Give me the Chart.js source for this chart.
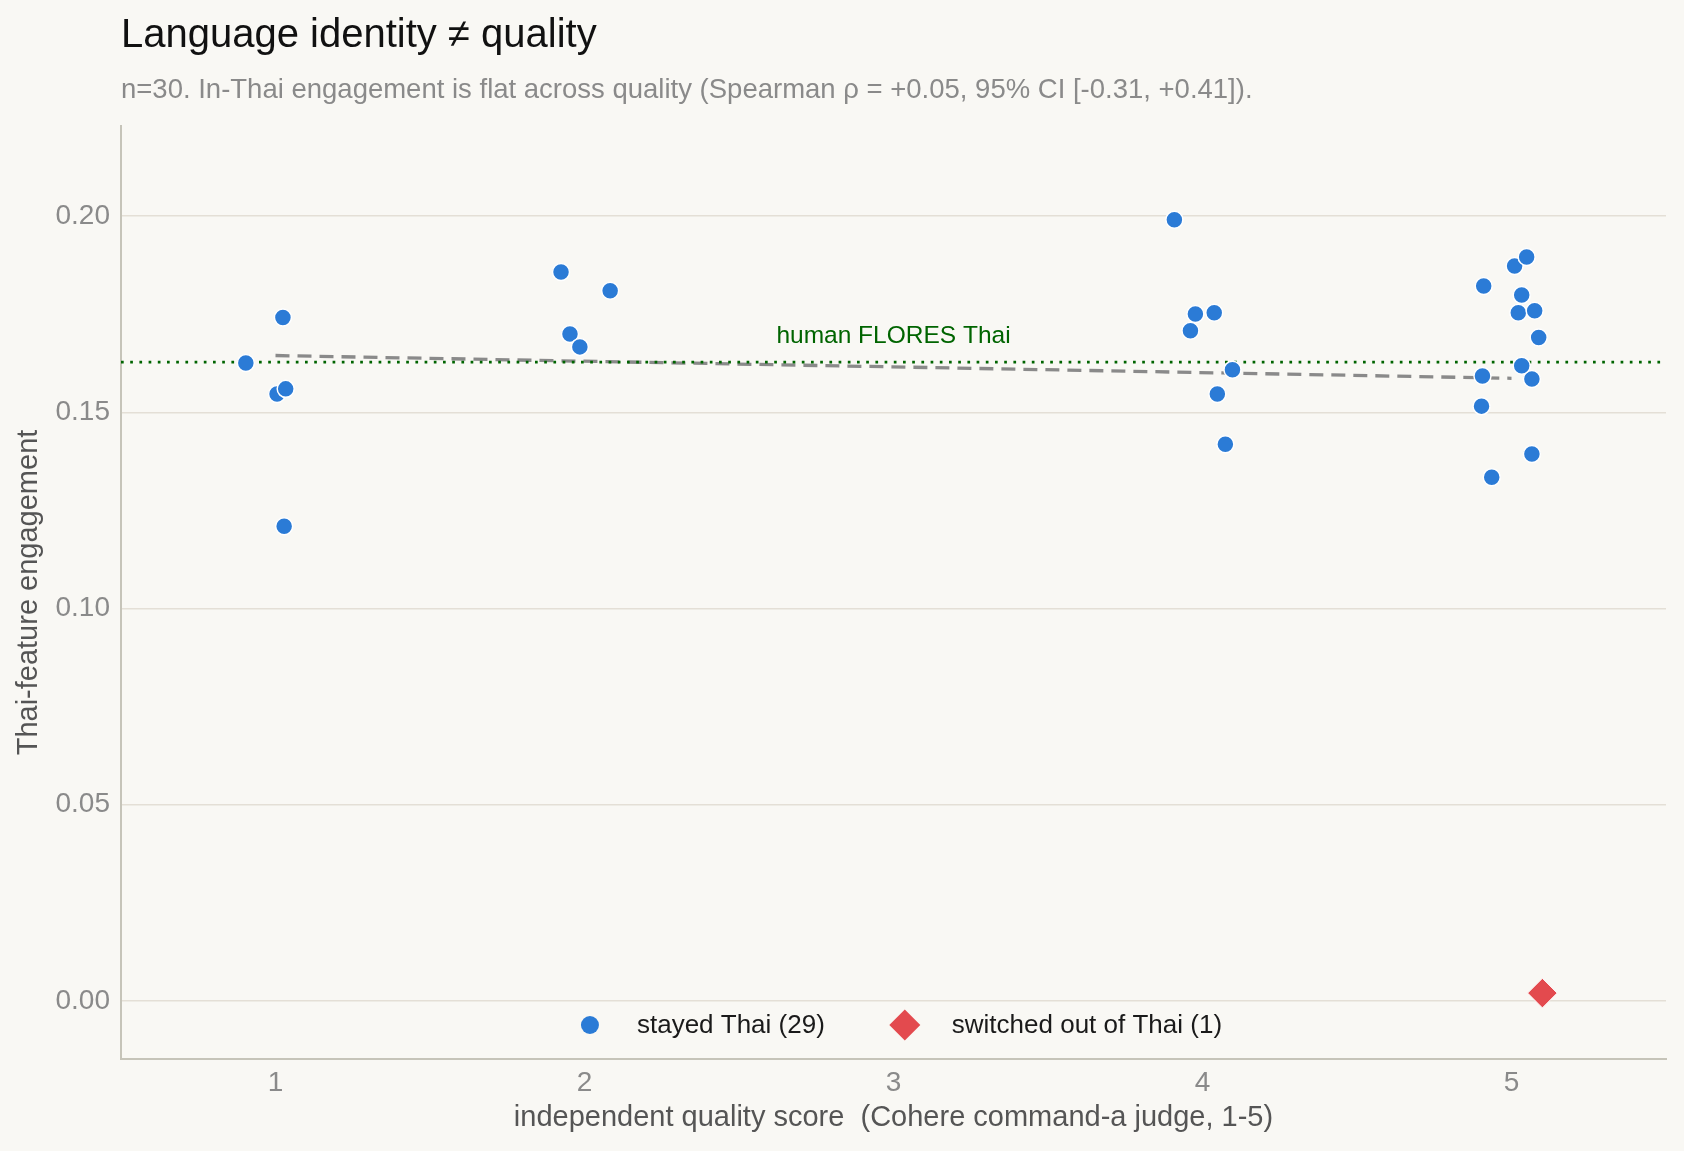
<!DOCTYPE html>
<html lang="en">
<head>
<meta charset="utf-8">
<title>Language identity ≠ quality</title>
<script src="https://cdn.jsdelivr.net/npm/chart.js@4.4.1/dist/chart.umd.min.js"></script>
<style>
  html, body { margin: 0; padding: 0; background: #f9f8f4; }
  canvas { display: block; }
</style>
</head>
<body>
<canvas id="qualityChart" width="1684" height="1151"></canvas>
<script>
// Texts
const chartTitle = 'Language identity ≠ quality';
const chartSubtitle = 'n=30. In-Thai engagement is flat across quality (Spearman ρ = +0.05, 95% CI [-0.31, +0.41]).';
const xAxisTitle = 'independent quality score  (Cohere command-a judge, 1-5)';
const yAxisTitle = 'Thai-feature engagement';

// Axis ranges and ticks
const xRange = [0.5, 5.5];
const yRange = [-0.0148, 0.223];
const xTicks = [1, 2, 3, 4, 5];
const yTicks = [0, 0.05, 0.10, 0.15, 0.20];

// Stayed Thai (29): jittered judge score, Thai-feature engagement
const stayedLabel = 'stayed Thai (29)';
const stayedScore = [
  0.904, 1.005, 1.033, 1.024, 1.028,
  1.924, 2.083, 1.953, 1.985,
  3.909, 3.961, 3.977, 4.038, 4.097, 4.048, 4.074,
  4.910, 5.010, 5.049, 5.022, 5.075, 5.033, 5.088, 5.066, 5.033, 4.906, 4.903, 5.066, 4.936
];
const stayedEngagement = [
  0.1626, 0.1547, 0.1560, 0.1742, 0.1210,
  0.1858, 0.1810, 0.1700, 0.1667,
  0.1991, 0.1708, 0.1751, 0.1754, 0.1609, 0.1547, 0.1419,
  0.1822, 0.1873, 0.1896, 0.1754, 0.1759, 0.1799, 0.1691, 0.1585, 0.1619, 0.1593, 0.1516, 0.1394, 0.1335
];

// Switched out of Thai (1)
const switchedLabel = 'switched out of Thai (1)';
const switchedScore = [5.10];
const switchedEngagement = [0.002];

// Human FLORES Thai reference level
const floresLabel = 'human FLORES Thai';
const floresEngagement = 0.1628;
const floresLabelScore = 3;

// Fitted trend across scores
const trendScore = [1, 5];
const trendEngagement = [0.1645, 0.1587];

const COLORS = {
  bg: '#f9f8f4',
  stayed: '#2b7bd6',
  switched: '#e34a4e',
  flores: '#006400',
  trend: '#8a8a8a',
  grid: '#e4dfd6',
  axis: '#c6c4b9',
  tick: '#8a8a8a',
  axisTitle: '#555555',
  title: '#111111',
  subtitle: '#8a8a8a',
  legendText: '#1a1a1a'
};
const FONT = '"Liberation Sans", Arial, Helvetica, sans-serif';

const toPoints = (xs, ys) => xs.map((x, i) => ({ x, y: ys[i] }));

// Canvas background
const backgroundPlugin = {
  id: 'background',
  beforeDraw(chart) {
    const ctx = chart.ctx;
    ctx.save();
    ctx.fillStyle = COLORS.bg;
    ctx.fillRect(0, 0, chart.width, chart.height);
    ctx.restore();
  }
};

// Title + subtitle aligned with the plot's left edge
const headerPlugin = {
  id: 'header',
  afterDraw(chart) {
    const { ctx, chartArea } = chart;
    ctx.save();
    ctx.textAlign = 'left';
    ctx.textBaseline = 'alphabetic';
    ctx.fillStyle = COLORS.title;
    ctx.font = '40px ' + FONT;
    ctx.fillText(chartTitle, chartArea.left, 47);
    ctx.fillStyle = COLORS.subtitle;
    ctx.font = '27.5px ' + FONT;
    ctx.fillText(chartSubtitle, chartArea.left, 98);
    ctx.restore();
  }
};

// Text label above the FLORES reference line
const floresLabelPlugin = {
  id: 'floresLabel',
  afterDatasetsDraw(chart) {
    const { ctx, scales } = chart;
    ctx.save();
    ctx.font = '24.5px ' + FONT;
    ctx.fillStyle = COLORS.flores;
    ctx.textAlign = 'center';
    ctx.textBaseline = 'alphabetic';
    ctx.fillText(floresLabel, scales.x.getPixelForValue(floresLabelScore), scales.y.getPixelForValue(floresEngagement) - 19);
    ctx.restore();
  }
};

// Legend drawn inside the plot, bottom centre
const innerLegendPlugin = {
  id: 'innerLegend',
  afterDraw(chart) {
    const { ctx, chartArea } = chart;
    const items = chart.data.datasets.filter(ds => ds.inLegend);
    ctx.save();
    ctx.font = '26px ' + FONT;
    const markerToText = 47, itemGap = 80, leadIn = 15;
    const widths = items.map(ds => ctx.measureText(ds.label).width);
    const total = leadIn + widths.reduce((s, w) => s + markerToText + w, 0) + itemGap * (items.length - 1);
    let x = (chartArea.left + chartArea.right) / 2 + 5 - total / 2 + leadIn;
    const y = chartArea.bottom - 34;
    items.forEach((ds, i) => {
      ctx.fillStyle = ds.backgroundColor;
      ctx.strokeStyle = ds.backgroundColor;
      Chart.helpers.drawPoint(ctx, {
        pointStyle: ds.pointStyle,
        radius: ds.legendRadius,
        rotation: 0,
        borderWidth: 0
      }, x, y);
      ctx.fillStyle = COLORS.legendText;
      ctx.textAlign = 'left';
      ctx.textBaseline = 'alphabetic';
      ctx.fillText(ds.label, x + markerToText, y + 8);
      x += markerToText + widths[i] + itemGap;
    });
    ctx.restore();
  }
};

Chart.defaults.font.family = FONT;

const chart = new Chart(document.getElementById('qualityChart'), {
  type: 'scatter',
  data: {
    datasets: [
      {
        label: stayedLabel,
        inLegend: true,
        data: toPoints(stayedScore, stayedEngagement),
        pointStyle: 'circle',
        backgroundColor: COLORS.stayed,
        borderColor: '#ffffff',
        borderWidth: 1.5,
        pointRadius: 8.5,
        legendRadius: 9,
        order: 1
      },
      {
        label: switchedLabel,
        inLegend: true,
        data: toPoints(switchedScore, switchedEngagement),
        pointStyle: 'rectRot',
        backgroundColor: COLORS.switched,
        borderColor: '#ffffff',
        borderWidth: 1,
        pointRadius: 14.8,
        legendRadius: 15.5,
        order: 0
      },
      {
        label: 'trend',
        data: toPoints(trendScore, trendEngagement),
        showLine: true,
        borderColor: COLORS.trend,
        borderWidth: 3.3,
        borderDash: [14, 8],
        pointRadius: 0,
        order: 3
      },
      {
        label: floresLabel,
        data: toPoints(xRange, [floresEngagement, floresEngagement]),
        showLine: true,
        borderColor: COLORS.flores,
        borderWidth: 2.7,
        borderDash: [2.7, 6.5],
        pointRadius: 0,
        order: 2
      }
    ]
  },
  options: {
    responsive: false,
    animation: false,
    layout: { padding: { top: 126, right: 18, bottom: 0, left: 0 } },
    plugins: {
      legend: { display: false },
      tooltip: { enabled: false }
    },
    scales: {
      x: {
        type: 'linear',
        min: xRange[0],
        max: xRange[1],
        afterBuildTicks: axis => { axis.ticks = xTicks.map(v => ({ value: v })); },
        afterFit: scale => { scale.height = 92; },
        grid: { display: false, drawTicks: false },
        border: { display: true, color: COLORS.axis, width: 2 },
        ticks: {
          color: COLORS.tick,
          font: { size: 28 },
          padding: 7,
          maxRotation: 0,
          autoSkip: false,
          callback: v => String(v)
        },
        title: {
          display: true,
          text: xAxisTitle,
          color: COLORS.axisTitle,
          font: { size: 29 },
          padding: { top: 0, bottom: 16 }
        }
      },
      y: {
        type: 'linear',
        min: yRange[0],
        max: yRange[1],
        afterBuildTicks: axis => { axis.ticks = yTicks.map(v => ({ value: v })); },
        afterFit: scale => { scale.width = 121; },
        grid: { color: COLORS.grid, lineWidth: 1.5, drawTicks: false },
        border: { display: true, color: COLORS.axis, width: 2 },
        ticks: {
          color: COLORS.tick,
          font: { size: 28 },
          padding: 11,
          autoSkip: false,
          callback: v => v.toFixed(2)
        },
        title: {
          display: true,
          text: yAxisTitle,
          color: COLORS.axisTitle,
          font: { size: 29 },
          padding: { top: 12, bottom: 0 }
        }
      }
    }
  },
  plugins: [backgroundPlugin, headerPlugin, floresLabelPlugin, innerLegendPlugin]
});
</script>
</body>
</html>
